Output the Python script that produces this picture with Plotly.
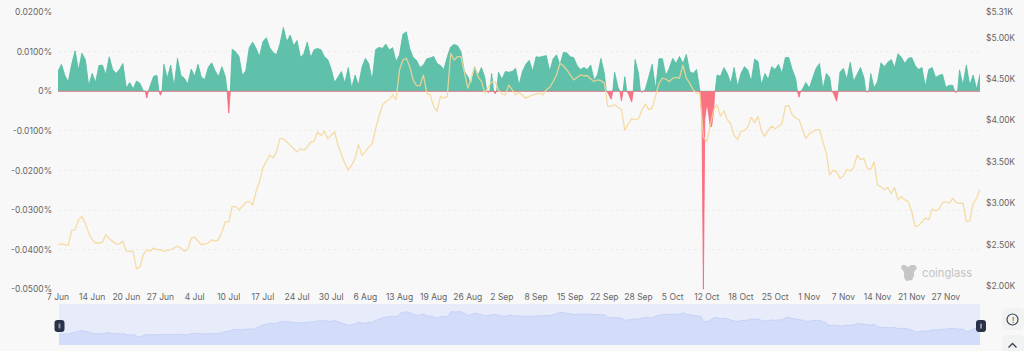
import plotly.graph_objects as go

W, H = 1024, 351

tick_labels = ["7 Jun","14 Jun","20 Jun","27 Jun","4 Jul","10 Jul","17 Jul","24 Jul","30 Jul",
               "6 Aug","13 Aug","19 Aug","26 Aug","2 Sep","8 Sep","15 Sep","22 Sep","28 Sep",
               "5 Oct","12 Oct","18 Oct","25 Oct","1 Nov","7 Nov","14 Nov","21 Nov","27 Nov"]

# funding rate, in units of 0.0001 %
funding = [
 50,68,40,24,68,102,54,96,80,14,
 45,22,65,66,42,87,55,45,55,70,
 8,22,6,26,20,1,-17,14,38,40,
 -10,68,33,66,12,83,40,33,18,56,
 38,68,35,30,60,72,52,37,62,37,
 -55,106,100,88,40,52,110,124,108,88,
 125,135,110,98,92,120,161,125,142,115,
 128,85,95,124,85,105,108,105,87,80,
 56,22,35,50,20,60,8,41,15,60,
 83,70,28,105,111,108,119,104,110,75,
 92,144,150,108,85,78,60,66,82,84,
 88,70,65,55,87,112,118,115,100,50,
 37,16,62,40,60,35,-3,45,-6,48,
 30,50,48,50,58,15,50,68,78,50,
 87,86,88,90,50,82,92,66,98,97,
 87,85,65,55,60,55,66,28,42,83,
 45,-3,-20,48,10,-24,37,-5,-27,80,
 45,-2,5,40,68,5,82,82,40,58,
 83,70,88,70,93,50,45,55,0,-500,
 -30,-89,-50,41,38,60,45,20,60,12,
 45,62,54,25,81,75,16,45,30,62,
 55,68,45,85,85,55,33,-15,5,22,
 8,35,58,70,5,45,35,-3,-25,48,
 58,30,73,25,41,60,35,-2,45,8,
 25,72,62,73,80,60,95,85,70,83,
 85,65,55,60,12,55,60,35,40,43,
 10,15,15,-3,54,15,66,15,41,5,
 43]

# extra readings around the October crash, where the curve moves faster than the grid
crash_x = [188.6, 189.4, 190.6, 191.4, 192.3]
crash_v = [-70, -70, -60, -89, 0]

# price in $K
price = [
 2.50,2.51,2.50,2.49,2.67,2.68,2.80,2.84,2.76,2.64,
 2.56,2.52,2.52,2.53,2.62,2.57,2.54,2.51,2.51,2.54,
 2.42,2.42,2.42,2.21,2.23,2.38,2.44,2.42,2.46,2.44,
 2.44,2.42,2.43,2.44,2.46,2.48,2.46,2.42,2.44,2.58,
 2.59,2.54,2.50,2.51,2.52,2.56,2.54,2.56,2.65,2.78,
 2.77,2.96,2.96,2.92,2.96,3.01,3.02,2.98,3.14,3.26,
 3.43,3.50,3.58,3.55,3.62,3.78,3.78,3.74,3.70,3.66,
 3.62,3.66,3.64,3.68,3.74,3.75,3.86,3.82,3.87,3.78,
 3.82,3.86,3.70,3.58,3.48,3.40,3.46,3.54,3.71,3.58,
 3.62,3.68,3.72,3.90,4.05,4.19,4.23,4.25,4.31,4.25,
 4.61,4.73,4.75,4.65,4.49,4.42,4.42,4.55,4.33,4.31,
 4.17,4.11,4.29,4.27,4.29,4.81,4.73,4.77,4.77,4.57,
 4.39,4.51,4.65,4.53,4.47,4.33,4.41,4.47,4.47,4.37,
 4.32,4.31,4.43,4.37,4.31,4.34,4.31,4.27,4.29,4.31,
 4.32,4.33,4.31,4.37,4.40,4.47,4.55,4.69,4.66,4.61,
 4.55,4.49,4.52,4.55,4.54,4.54,4.50,4.47,4.49,4.48,
 4.45,4.17,4.17,4.19,4.16,4.13,3.88,3.96,4.02,4.01,
 4.02,4.13,4.20,4.13,4.15,4.31,4.45,4.51,4.50,4.47,
 4.51,4.52,4.51,4.67,4.51,4.45,4.37,4.33,4.33,3.80,
 3.74,3.94,4.13,4.19,4.05,4.12,4.01,3.96,3.82,3.77,
 3.87,3.88,3.92,4.04,3.97,4.05,3.87,3.81,3.88,3.93,
 3.90,3.93,3.96,4.17,4.18,4.07,4.03,4.01,3.90,3.78,
 3.84,3.86,3.89,3.89,3.74,3.60,3.34,3.40,3.38,3.30,
 3.33,3.41,3.39,3.43,3.58,3.53,3.54,3.42,3.41,3.50,
 3.22,3.20,3.16,3.19,3.12,3.19,3.04,3.08,3.04,3.02,
 2.90,2.72,2.73,2.78,2.82,2.80,2.93,2.91,2.93,3.01,
 3.02,3.00,3.06,3.01,3.00,3.00,2.78,2.79,3.00,3.06,
 3.17]

n = len(funding)
idx = list(range(n))
assert len(price) == n == 271, (len(price), n)

# merge samples; add zero crossings so red and green meet on the zero line
pts = dict(zip(idx, funding))
for i in idx:
    if funding[i] < 0:
        if i > 0 and funding[i - 1] > 0:
            pts[i - 0.45] = 0
        if i < n - 1 and funding[i + 1] > 0:
            pts[i + 0.45] = 0
pts.update(zip(crash_x, crash_v))
xs = sorted(pts)
rate = [pts[x] / 10000 for x in xs]
pos = [max(v, 0) for v in rate]
neg = [min(v, 0) for v in rate]

# pixel layout helpers (paper coordinates)
L, R, T, B = 58, 980, 12, 289.5
MT, MB = 304, 345
px = lambda x: x / W
py = lambda y: 1 - y / H

fig = go.Figure()
fig.add_trace(go.Scatter(x=xs, y=pos, mode="lines", fill="tozeroy", xaxis="x", yaxis="y",
                         line=dict(color="#52bba3", width=0.8), fillcolor="rgba(84,188,164,0.93)",
                         hoverinfo="skip", showlegend=False))
fig.add_trace(go.Scatter(x=xs, y=neg, mode="lines", fill="tozeroy", xaxis="x", yaxis="y",
                         line=dict(color="#f9667a", width=0.8), fillcolor="rgba(250,107,122,0.95)",
                         hoverinfo="skip", showlegend=False))
fig.add_trace(go.Scatter(x=idx, y=price, mode="lines", xaxis="x", yaxis="y2",
                         line=dict(color="rgba(246,214,150,0.85)", width=1.3),
                         hoverinfo="skip", showlegend=False))
fig.add_trace(go.Scatter(x=idx, y=price, mode="lines", fill="tozeroy", xaxis="x2", yaxis="y3",
                         line=dict(color="#c6d3f7", width=1), fillcolor="#d3ddf9",
                         hoverinfo="skip", showlegend=False))

tickfont = dict(family="Inter, Roboto, sans-serif", size=8.5, color="#666666")
rate_ticks = [0.02, 0.01, 0, -0.01, -0.02, -0.03, -0.04, -0.05]
rate_labels = ["0.0200%", "0.0100%", "0%", "-0.0100%", "-0.0200%", "-0.0300%", "-0.0400%", "-0.0500%"]
price_ticks = [5.31, 5.0, 4.5, 4.0, 3.5, 3.0, 2.5, 2.0]
price_labels = ["$5.31K", "$5.00K", "$4.50K", "$4.00K", "$3.50K", "$3.00K", "$2.50K", "$2.00K"]

def rrect(x0, y0, x1, y1, r):
    X = lambda v: f"{px(v):.5f}"
    Y = lambda v: f"{py(v):.5f}"
    return (f"M{X(x0+r)},{Y(y0)} L{X(x1-r)},{Y(y0)} Q{X(x1)},{Y(y0)} {X(x1)},{Y(y0+r)} "
            f"L{X(x1)},{Y(y1-r)} Q{X(x1)},{Y(y1)} {X(x1-r)},{Y(y1)} L{X(x0+r)},{Y(y1)} "
            f"Q{X(x0)},{Y(y1)} {X(x0)},{Y(y1-r)} L{X(x0)},{Y(y0+r)} Q{X(x0)},{Y(y0)} {X(x0+r)},{Y(y0)} Z")

def pathshape(d, fill, line="rgba(0,0,0,0)", lw=0):
    return dict(type="path", xref="paper", yref="paper", path=d, fillcolor=fill,
                line=dict(color=line, width=lw), layer="above")

logo = [(905,265),(908,267),(911,265),(915,265),(917,268),(914,272),(914,276),(912,280),(906,281),
        (904,277),(904,272),(901,268),(902,265)]
logo_d = "M" + " L".join(f"{px(x):.5f},{py(y):.5f}" for x, y in logo) + " Z"

shapes = [
    dict(type="rect", xref="paper", yref="paper", x0=px(59), x1=px(980), y0=py(MB), y1=py(MT),
         fillcolor="#e8ecfa", line=dict(width=0), layer="below"),
    pathshape(rrect(54.5, 320, 64.5, 332, 3), "#2b3148"),
    pathshape(rrect(976, 320, 986, 332, 3), "#2b3148"),
    pathshape(rrect(58.5, 323.5, 60.5, 328.5, 0.5), "#8d93a6"),
    pathshape(rrect(980, 323.5, 982, 328.5, 0.5), "#8d93a6"),
    pathshape(rrect(1002, 308, 1024, 330, 5), "#f1f3f3"),
    pathshape(rrect(1002, 335, 1024, 360, 5), "#f1f3f3"),
    dict(type="circle", xref="paper", yref="paper", x0=px(1007), x1=px(1018), y0=py(325), y1=py(314),
         line=dict(color="#3c4450", width=1.2), layer="above"),
    pathshape(f"M{px(1008.5):.5f},{py(347.5):.5f} L{px(1012.5):.5f},{py(343.5):.5f} L{px(1016.5):.5f},{py(347.5):.5f}",
              "rgba(0,0,0,0)", "#3c4450", 1.4),
    pathshape(logo_d, "#c6c6c6"),
]

annotations = [
    dict(text="coinglass", xref="paper", yref="paper", x=px(920), y=py(272.5), xanchor="left", yanchor="middle",
         showarrow=False, font=dict(family="Inter, Roboto, sans-serif", size=11.2, color="#c4c4c4")),
    dict(text="!", xref="paper", yref="paper", x=px(1012.5), y=py(319.5), xanchor="center", yanchor="middle",
         showarrow=False, font=dict(family="Inter, Roboto, sans-serif", size=8, color="#3c4450")),
]

fig.update_layout(
    width=W, height=H, autosize=False,
    margin=dict(l=0, r=0, t=0, b=0),
    paper_bgcolor="#f8f8f8", plot_bgcolor="#f8f8f8",
    showlegend=False, shapes=shapes, annotations=annotations,
    xaxis=dict(domain=[px(L), px(R)], range=[0, 270], anchor="y",
               tickmode="array", tickvals=[i * 10 for i in range(len(tick_labels))], ticktext=tick_labels,
               showgrid=False, zeroline=False, showline=False, ticks="", tickangle=0,
               tickfont=tickfont, ticklabelstandoff=1, automargin=False),
    yaxis=dict(domain=[py(B), py(T)], range=[-0.05, 0.02], anchor="x",
               tickmode="array", tickvals=rate_ticks, ticktext=rate_labels,
               showgrid=True, gridcolor="#eeeeee", griddash="dot", gridwidth=1,
               zeroline=True, zerolinecolor="#cde0da", zerolinewidth=1,
               showline=False, ticks="", tickfont=tickfont, ticklabelstandoff=5, automargin=False),
    yaxis2=dict(domain=[py(B), py(T)], range=[5.31 - (B - T) / 82.8, 5.31], anchor="x", overlaying="y", side="right",
                tickmode="array", tickvals=price_ticks, ticktext=price_labels,
                showgrid=False, zeroline=False, showline=False, ticks="",
                tickfont=tickfont, ticklabelstandoff=5, automargin=False),
    xaxis2=dict(domain=[px(59), px(R)], range=[0, 270], anchor="y3", visible=False),
    yaxis3=dict(domain=[py(MB), py(MT)], range=[1.38, 5.56], anchor="x2", visible=False),
)

fig.write_html("out.html", config=dict(displayModeBar=False),
               post_script="document.body.style.margin='0';document.body.style.overflow='hidden';")
